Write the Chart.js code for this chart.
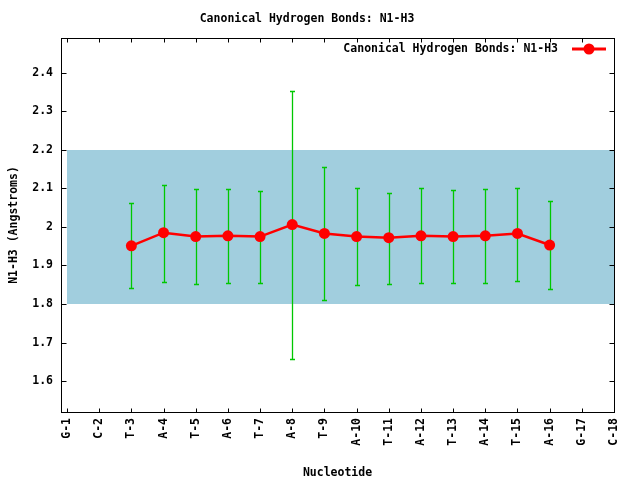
<!DOCTYPE html>
<html><head><meta charset="utf-8">
<script src="https://cdn.jsdelivr.net/npm/chart.js@4/dist/chart.umd.min.js"></script>
<style>html,body{margin:0;padding:0;background:#fff}canvas{display:block}</style>
</head><body>
<canvas id="c" width="640" height="480"></canvas>
<script>
const categories = ['G-1','C-2','T-3','A-4','T-5','A-6','T-7','A-8','T-9','A-10','T-11','A-12','T-13','A-14','T-15','A-16','G-17','C-18'];
const meanValues = [null,null,1.951,1.985,1.975,1.977,1.975,2.006,1.983,1.975,1.972,1.977,1.975,1.977,1.983,1.953,null,null];
const highValues = [null,null,2.062,2.108,2.098,2.098,2.093,2.353,2.155,2.100,2.087,2.100,2.095,2.098,2.100,2.067,null,null];
const lowValues  = [null,null,1.841,1.857,1.851,1.854,1.854,1.658,1.810,1.849,1.851,1.854,1.854,1.854,1.859,1.838,null,null];
const yTickValues = [1.6,1.7,1.8,1.9,2.0,2.1,2.2,2.3,2.4];
const bandRange = [1.8, 2.2];
const titleText = 'Canonical Hydrogen Bonds: N1-H3';
const seriesName = 'Canonical Hydrogen Bonds: N1-H3';
const xTitle = 'Nucleotide';
const yTitle = 'N1-H3 (Angstroms)';

const FAMILY = "'DejaVu Sans Mono', 'Liberation Mono', monospace";
const fnt = {family: FAMILY, size: 11.5, weight: 'bold', lineHeight: 1.2};
const BAND_COLOR = 'rgb(161,206,222)';
const ERR_COLOR = 'rgb(0,200,0)';
const LINE_COLOR = 'rgb(255,0,0)';

const points = [];
meanValues.forEach((v, i) => { if (v !== null) points.push({x: i + 1, y: v}); });

const bandPlugin = {
  id: 'bandAndErrors',
  beforeDatasetsDraw(chart) {
    const {ctx, chartArea: a, scales: {x, y}} = chart;
    ctx.save();
    const x0 = x.getPixelForValue(1);
    const yTop = y.getPixelForValue(bandRange[1]);
    const yBot = y.getPixelForValue(bandRange[0]);
    ctx.fillStyle = BAND_COLOR;
    ctx.fillRect(Math.round(x0), Math.round(yTop), Math.round(a.right - x0), Math.round(yBot - yTop));
    ctx.strokeStyle = ERR_COLOR;
    ctx.lineWidth = 1.3;
    meanValues.forEach((v, i) => {
      if (v === null) return;
      const px = Math.round(x.getPixelForValue(i + 1)) + 0.5;
      const pt = Math.round(y.getPixelForValue(highValues[i])) + 0.5;
      const pb = Math.round(y.getPixelForValue(lowValues[i])) + 0.5;
      ctx.beginPath();
      ctx.moveTo(px, pt); ctx.lineTo(px, pb);
      ctx.moveTo(px - 2.5, pt); ctx.lineTo(px + 2.5, pt);
      ctx.moveTo(px - 2.5, pb); ctx.lineTo(px + 2.5, pb);
      ctx.stroke();
    });
    ctx.restore();
  }
};

const framePlugin = {
  id: 'frame',
  afterDraw(chart) {
    const {ctx, chartArea: a, scales: {x, y}} = chart;
    ctx.save();
    ctx.strokeStyle = '#000';
    ctx.lineWidth = 1;
    const L = Math.round(a.left) + 0.5, R = Math.round(a.right) + 0.5;
    const T = Math.round(a.top) + 0.5, B = Math.round(a.bottom) + 0.5;
    ctx.strokeRect(L, T, R - L, B - T);
    ctx.beginPath();
    yTickValues.forEach(v => {
      const py = Math.round(y.getPixelForValue(v)) + 0.5;
      ctx.moveTo(L, py); ctx.lineTo(L + 5, py);
      ctx.moveTo(R, py); ctx.lineTo(R - 5, py);
    });
    categories.forEach((c, i) => {
      const px = Math.round(x.getPixelForValue(i + 1)) + 0.5;
      ctx.moveTo(px, B); ctx.lineTo(px, B - 4);
      ctx.moveTo(px, T); ctx.lineTo(px, T + 4);
    });
    ctx.stroke();
    // legend
    const ly = Math.round(a.top + 11);
    ctx.font = `bold ${fnt.size}px ${FAMILY}`;
    ctx.fillStyle = '#000';
    ctx.textAlign = 'right';
    ctx.textBaseline = 'middle';
    ctx.fillText(seriesName, a.right - 56, ly);
    ctx.strokeStyle = LINE_COLOR;
    ctx.lineWidth = 3;
    ctx.beginPath();
    ctx.moveTo(a.right - 42, ly); ctx.lineTo(a.right - 8, ly);
    ctx.stroke();
    ctx.fillStyle = LINE_COLOR;
    ctx.beginPath();
    ctx.arc(a.right - 25, ly, 5.5, 0, Math.PI * 2);
    ctx.fill();
    ctx.restore();
  }
};

new Chart(document.getElementById('c'), {
  type: 'line',
  data: {
    datasets: [{
      label: seriesName,
      data: points,
      borderColor: LINE_COLOR,
      backgroundColor: LINE_COLOR,
      borderWidth: 2.5,
      pointRadius: 5.5,
      pointBorderWidth: 0,
      pointBackgroundColor: LINE_COLOR,
      tension: 0,
      fill: false
    }]
  },
  options: {
    responsive: false,
    animation: false,
    events: [],
    devicePixelRatio: 1,
    layout: {padding: {left: 0, right: 26, top: 0, bottom: 0}},
    plugins: {
      legend: {display: false},
      tooltip: {enabled: false},
      title: {
        display: true, text: titleText, color: '#000', font: fnt,
        padding: {top: 12, bottom: 12.2}
      }
    },
    scales: {
      x: {
        type: 'linear', min: 0.813, max: 18,
        grid: {display: false, drawTicks: false},
        border: {display: false},
        afterBuildTicks(scale) { scale.ticks = categories.map((c, i) => ({value: i + 1})); },
        afterFit(scale) { scale.height = 68; },
        ticks: {
          color: '#000', font: fnt, padding: 6, autoSkip: false,
          maxRotation: 90, minRotation: 90,
          callback: (v) => categories[Math.round(v) - 1]
        },
        title: {display: true, text: xTitle, color: '#000', font: fnt, padding: {top: 0, bottom: 0}}
      },
      y: {
        type: 'linear', min: 1.52, max: 2.49,
        grid: {display: false, drawTicks: false},
        border: {display: false},
        afterBuildTicks(scale) { scale.ticks = yTickValues.map(v => ({value: v})); },
        afterFit(scale) { scale.width = 61; },
        ticks: {
          color: '#000', font: fnt, padding: 8,
          callback: (v) => String(Number(Number(v).toFixed(1)))
        },
        title: {display: true, text: yTitle, color: '#000', font: fnt, padding: {top: 7, bottom: 0}}
      }
    }
  },
  plugins: [bandPlugin, framePlugin]
});
</script>
</body></html>
